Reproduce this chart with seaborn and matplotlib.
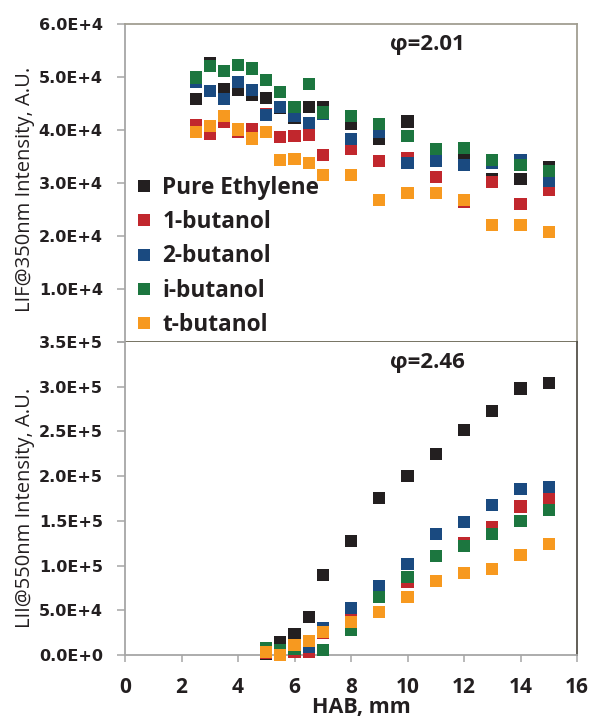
import numpy as np
import pandas as pd
import matplotlib
matplotlib.use("Agg")
import matplotlib.pyplot as plt
from matplotlib.lines import Line2D
from matplotlib.ticker import FuncFormatter, MultipleLocator
import seaborn as sns

# ---------------- data ----------------
series = ["Pure Ethylene", "1-butanol", "2-butanol", "i-butanol", "t-butanol"]
colors = ["#231f20", "#c1272d", "#1a4a80", "#1c763f", "#f7991f"]

hab_lif = [2.5, 3, 3.5, 4, 4.5, 5, 5.5, 6, 6.5, 7, 8, 9, 10, 11, 12, 13, 14, 15]
lif_ethylene = [45800, 52700, 47800, 47600, 46700, 46100, 44100, 42200, 44300, 44300,
                41100, 38300, 41600, 35300, 35600, 30800, 30800, 33000]
lif_1butanol = [40900, 39200, 41600, 39600, 40100, 43100, 38600, 38800, 39000, 35300,
                36400, 34100, 34700, 31100, 26400, 30200, 26100, 28700]
lif_2butanol = [49100, 47300, 45900, 49100, 47600, 42800, 44400, 42600, 41400, 43000,
                38300, 39600, 33800, 34100, 33400, 33800, 34300, 30400]
lif_ibutanol = [49900, 52100, 51200, 52300, 51600, 49500, 47100, 44400, 48600, 43300,
                42600, 41100, 38800, 36400, 36600, 34300, 33400, 32300]
lif_tbutanol = [39600, 40700, 42600, 40100, 38400, 39600, 34300, 34500, 33800, 31500,
                31500, 26800, 28100, 28100, 26800, 22100, 22100, 20800]

hab_lii = [5, 5.5, 6, 6.5, 7, 8, 9, 10, 11, 12, 13, 14, 15]
lii_ethylene = [1000, 14500, 23500, 42500, 89500, 127500, 175600, 200000, 225000,
                252000, 273000, 298000, 304000]
lii_1butanol = [2000, 3000, 3400, 3400, 24600, 39000, 66000, 82000, 111000, 125000,
                143000, 166000, 176000]
lii_2butanol = [5000, 3400, 9000, 9000, 30000, 52600, 77000, 102000, 135000, 149000,
                168000, 186000, 188000]
lii_ibutanol = [7800, 5600, 6700, 15500, 5600, 28000, 65000, 87000, 111000, 122000,
                135000, 150000, 162000]
lii_tbutanol = [3400, 0, 11200, 15700, 25700, 36900, 48000, 65000, 83000, 92000,
                96000, 112000, 124000]

lif_values = [lif_ethylene, lif_1butanol, lif_2butanol, lif_ibutanol, lif_tbutanol]
lii_values = [lii_ethylene, lii_1butanol, lii_2butanol, lii_ibutanol, lii_tbutanol]

df_lif = pd.concat([pd.DataFrame({"HAB": hab_lif, "val": v, "series": s})
                    for s, v in zip(series, lif_values)], ignore_index=True)
df_lii = pd.concat([pd.DataFrame({"HAB": hab_lii, "val": v, "series": s})
                    for s, v in zip(series, lii_values)], ignore_index=True)

# ---------------- figure ----------------
W, H = 592, 718
fig = plt.figure(figsize=(W / 100, H / 100), dpi=100)
L, R = 125, 577
ax1 = fig.add_axes([L / W, 1 - 342 / H, (R - L) / W, (342 - 24) / H])
ax2 = fig.add_axes([L / W, 1 - 655 / H, (R - L) / W, (655 - 342) / H])

txt = "#231f20"
open_bold = dict(family="Open Sans", weight="bold")

for ax, df in ((ax1, df_lif), (ax2, df_lii)):
    sns.scatterplot(data=df, x="HAB", y="val", hue="series", hue_order=series,
                    palette=colors, marker="s", s=76, linewidth=0, clip_on=False,
                    legend=False, ax=ax, zorder=3)
    ax.set_xlim(0, 16)
    ax.xaxis.set_major_locator(MultipleLocator(2))
    ax.set_xlabel("")
    ax.set_ylabel("")
    ax.set_facecolor("white")

def sci(v, pos):
    if v == 0:
        return "0.0E+0"
    e = int(np.floor(np.log10(abs(v)) + 1e-9))
    return f"{v / 10 ** e:.1f}E+{e}"

ax1.set_ylim(0, 60000)
ax1.yaxis.set_major_locator(MultipleLocator(10000))
ax1.yaxis.set_major_formatter(FuncFormatter(lambda v, p: "" if v == 0 else sci(v, p)))
ax2.set_ylim(0, 350000)
ax2.yaxis.set_major_locator(MultipleLocator(50000))
ax2.yaxis.set_major_formatter(FuncFormatter(sci))

for ax in (ax1, ax2):
    ax.tick_params(axis="y", direction="out", length=6, width=1.1, color="#a6a6a6",
                   pad=10, labelcolor=txt)
    for lab in ax.get_yticklabels():
        lab.set_fontfamily("DejaVu Sans")
        lab.set_fontweight("bold")
        lab.set_fontsize(11.5)

ax1.tick_params(axis="x", bottom=False, labelbottom=False)
ax2.tick_params(axis="x", direction="out", length=5, width=1.1, color="#a6a6a6",
                pad=11, labelcolor=txt)
for lab in ax2.get_xticklabels():
    lab.set_fontfamily("Open Sans")
    lab.set_fontweight("bold")
    lab.set_fontsize(15)

# spines
for sp in ax1.spines.values():
    sp.set_linewidth(1.3)
ax1.spines["left"].set_color("#a6a6a6")
ax1.spines["top"].set_color("#a19e92")
ax1.spines["right"].set_color("#a19e92")
ax1.spines["bottom"].set_color("#6b6856")
for sp in ax2.spines.values():
    sp.set_linewidth(1.3)
ax2.spines["top"].set_visible(False)
ax2.spines["left"].set_color("#a6a6a6")
ax2.spines["bottom"].set_color("#a6a6a6")
ax2.spines["right"].set_color("#55524a")

# labels
ax1.set_ylabel("LIF@350nm Intensity, A.U.", family="Open Sans", fontsize=14.5, color=txt)
ax1.yaxis.set_label_coords(-0.1991, 0.48)
ax2.set_ylabel("LII@550nm Intensity, A.U.", family="Open Sans", fontsize=14.5, color=txt)
ax2.yaxis.set_label_coords(-0.1991, 0.47)
ax2.set_xlabel("HAB, mm", fontsize=15.5, color=txt, va="baseline", **open_bold)
ax2.xaxis.set_label_coords(0.524, -0.1853)

ax1.text(0.670, 0.934, "φ=2.01", transform=ax1.transAxes, ha="center", va="center",
         fontsize=16, color=txt, **open_bold)
ax2.text(0.670, 0.933, "φ=2.46", transform=ax2.transAxes, ha="center", va="center",
         fontsize=16, color=txt, **open_bold)

# legend
handles = [Line2D([], [], marker="s", linestyle="", markersize=8, color=c,
                  markeredgewidth=0) for c in colors]
leg = ax1.legend(handles, series, loc="upper left",
                 bbox_to_anchor=(126 / W, 1 - 167 / H), bbox_transform=fig.transFigure,
                 frameon=False, prop=dict(family="Open Sans", weight="bold", size=16.3),
                 handlelength=0.8, handletextpad=0.4, labelspacing=0.45, borderpad=0.4,
                 borderaxespad=0)
for t in leg.get_texts():
    t.set_color(txt)
leg.set_zorder(5)

fig.savefig("out.png", dpi=100, facecolor="white")
